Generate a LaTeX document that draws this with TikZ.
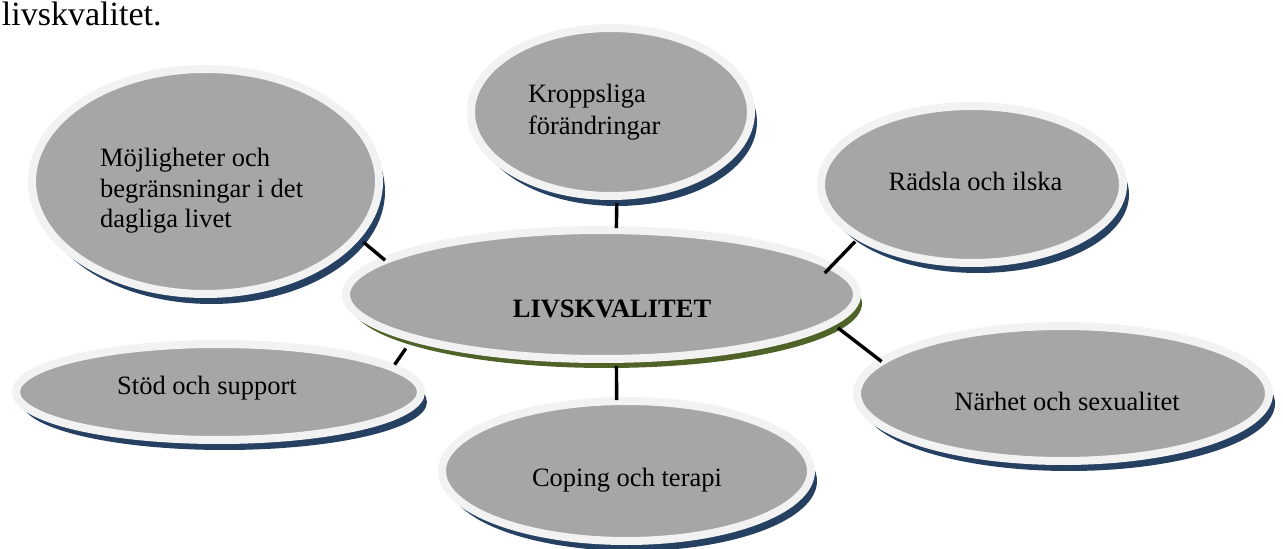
\documentclass[tikz,border=0pt]{standalone}
\usepackage{fontspec}
\setmainfont{Liberation Serif}
\usetikzlibrary{shapes.geometric,shadows}
\definecolor{bubfill}{HTML}{A6A6A6}
\definecolor{bubring}{HTML}{F2F2F2}
\definecolor{shblue}{HTML}{254061}
\definecolor{shgreen}{HTML}{4F6228}
\tikzset{
  bub/.style={ellipse, inner sep=0pt, outer sep=0pt, fill=bubfill, draw=bubring, line width=4pt},
  blueshadow/.style={drop shadow={shadow xshift=3pt, shadow yshift=-5pt, fill=shblue, opacity=1}},
  greenshadow/.style={drop shadow={shadow xshift=2.5pt, shadow yshift=-4.5pt, fill=shgreen, opacity=1}},
  txt/.style={inner sep=0pt, outer sep=0pt, font=\fontsize{13.25pt}{15.5pt}\selectfont},
  txtb/.style={inner sep=0pt, outer sep=0pt, font=\fontsize{13.25pt}{15.5pt}\selectfont\bfseries},
  titletxt/.style={inner sep=0pt, outer sep=0pt, font=\fontsize{17pt}{20pt}\selectfont},
  conn/.style={line width=1.7pt, black},
}
\begin{document}
\begin{tikzpicture}[x=0.5pt, y=-0.5pt]
\useasboundingbox (0,0) rectangle (1283,549);
% ellipses
\node[bub, blueshadow, minimum width=173.5pt, minimum height=112.5pt] (m) at (205.5,181.5) {};
\node[bub, blueshadow, minimum width=140pt, minimum height=84pt] (k) at (611,112) {};
\node[bub, blueshadow, minimum width=151pt, minimum height=78.5pt] (r) at (972,184.5) {};
\node[bub, blueshadow, minimum width=202.5pt, minimum height=48pt] (st) at (218.5,392) {};
\node[bub, blueshadow, minimum width=184.5pt, minimum height=70pt] (co) at (626.5,471) {};
\node[bub, blueshadow, minimum width=206pt, minimum height=67.5pt] (n) at (1063,393.5) {};
\node[bub, greenshadow, minimum width=255.5pt, minimum height=64.5pt] (c) at (601.5,294.5) {};
% connectors
\draw[conn, shorten <=3.5pt, shorten >=1pt] (k.-86.59) -- (c.77.31);
\draw[conn, shorten <=3.5pt, shorten >=0.5pt] (c.-77.3) -- (co.98.54);
\draw[conn, shorten <=4.3pt] (m.-20.46) -- (c.171.7);
\draw[conn, shorten <=3.25pt, shorten >=-4.75pt] (r.205.5) -- (c.7.21);
\draw[conn, shorten <=6.3pt, shorten >=1.75pt] (c.193.58) -- (st.8.53);
\draw[conn, shorten <=4.2pt] (c.-7.83) -- (n.170.04);
% texts
\node[titletxt, anchor=base west] (title) at (2,26) {livskvalitet.};
\node[txt, anchor=base west] (m1) at (100,167) {Möjligheter och};
\node[txt, anchor=base west] (m2) at (100,198) {begränsningar i det};
\node[txt, anchor=base west] (m3) at (100,228) {dagliga livet};
\node[txt, anchor=base west] (k1) at (528,103) {Kroppsliga};
\node[txt, anchor=base west] (k2) at (528,135) {förändringar};
\node[txt, anchor=base] (rt) at (975.5,191) {Rädsla och ilska};
\node[txtb, anchor=base] (ct) at (612,318) {LIVSKVALITET};
\node[txt, anchor=base] (stt) at (207,394) {Stöd och support};
\node[txt, anchor=base] (cot) at (627,487) {Coping och terapi};
\node[txt, anchor=base] (nt) at (1067,410.5) {Närhet och sexualitet};
\end{tikzpicture}
\end{document}
